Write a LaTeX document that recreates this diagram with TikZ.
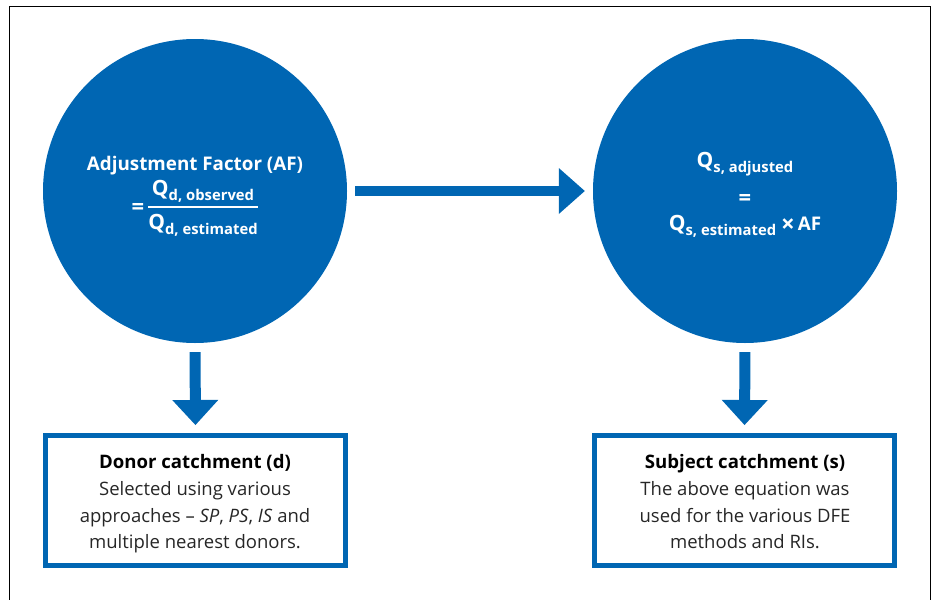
\documentclass[tikz,border=0pt]{standalone}
\usepackage{fontspec}
\setmainfont{Open Sans}
\usetikzlibrary{arrows.meta}
\definecolor{nblue}{RGB}{0,102,179}
\newcommand{\Qsub}[1]{{\fontsize{21}{21}\selectfont Q}\raisebox{-5pt}{\fontsize{14.8}{15}\selectfont #1}}
\newcommand{\bigeq}{{\fontsize{22}{22}\selectfont =}}
\newcommand{\bigtimes}{\raisebox{-2.5pt}{\fontsize{24}{24}\selectfont ×}}
\begin{document}
\begin{tikzpicture}[x=1pt,y=-1pt,
  disc/.style={circle, fill=nblue, minimum size=304pt, inner sep=0pt},
  boxnode/.style={draw=nblue, line width=5pt, minimum width=300pt, minimum height=130pt, inner sep=0pt},
  flowh/.style={draw=nblue, line width=10pt, -{Triangle[length=26pt,width=46pt,line width=0pt]}},
  flowv/.style={draw=nblue, line width=11pt, -{Triangle[length=25pt,width=46pt,line width=0pt]}},
  wtxt/.style={text=white, font=\bfseries\fontsize{18.8}{22}\selectfont, inner sep=0pt, anchor=base},
  ttl/.style={font=\bfseries\fontsize{18.6}{22}\selectfont, inner sep=0pt, anchor=base},
  bdy/.style={font=\fontsize{18.5}{22}\selectfont, inner sep=0pt, anchor=base, text=black!85}
]
\useasboundingbox (0,0) rectangle (935,600);
% outer frame (bottom edge lies below the picture)
\coordinate (fbl) at (9,610);
\coordinate (ftl) at (9,6);
\coordinate (ftr) at (930,6);
\coordinate (fbr) at (930,610);
\draw[line width=1pt] (fbl) -- (ftl) -- (ftr) -- (fbr);

% circles
\node[disc] (c1) at (195,191) {};
\node[disc] (c2) at (745,191) {};

% boxes
\node[boxnode] (b1) at (195.5,500.5) {};
\node[boxnode] (b2) at (744.5,500.5) {};

% arrows
\draw[flowh, shorten <=8pt, shorten >=8pt] (c1.east) -- (c2.west);
\draw[flowv, shorten <=9pt, shorten >=8pt] (c1.south) -- (b1.north);
\draw[flowv, shorten <=9pt, shorten >=8pt] (c2.south) -- (b2.north);

% left circle text
\node[wtxt] (af) at (195,170) {Adjustment Factor (AF)};
\node[wtxt] (eq1) at (138,214) {\bigeq};
\node[wtxt] (num) at (203,195) {\Qsub{d, observed}};
\coordinate (fl) at (148,207);
\coordinate (fr) at (258,207);
\draw[white, line width=1.5pt] (fl) -- (fr);
\node[wtxt] (den) at (203,229) {\Qsub{d, estimated}};

% right circle text
\node[wtxt] (qa) at (745,167) {\Qsub{s, adjusted}};
\node[wtxt] (eq2) at (745,205) {\bigeq};
\node[wtxt] (qe) at (745,230) {\Qsub{s, estimated} \bigtimes\,AF};

% left box text
\node[ttl] (b1t) at (195,468) {Donor catchment (d)};
\node[bdy] (b1l1) at (195,495) {Selected using various};
\node[bdy] (b1l2) at (195,522) {approaches – \textit{SP}, \textit{PS}, \textit{IS} and};
\node[bdy] (b1l3) at (195,548) {multiple nearest donors.};

% right box text
\node[ttl] (b2t) at (745,468) {Subject catchment (s)};
\node[bdy] (b2l1) at (745,495) {The above equation was};
\node[bdy] (b2l2) at (745,522) {used for the various DFE};
\node[bdy] (b2l3) at (745,548) {methods and RIs.};
\end{tikzpicture}
\end{document}
